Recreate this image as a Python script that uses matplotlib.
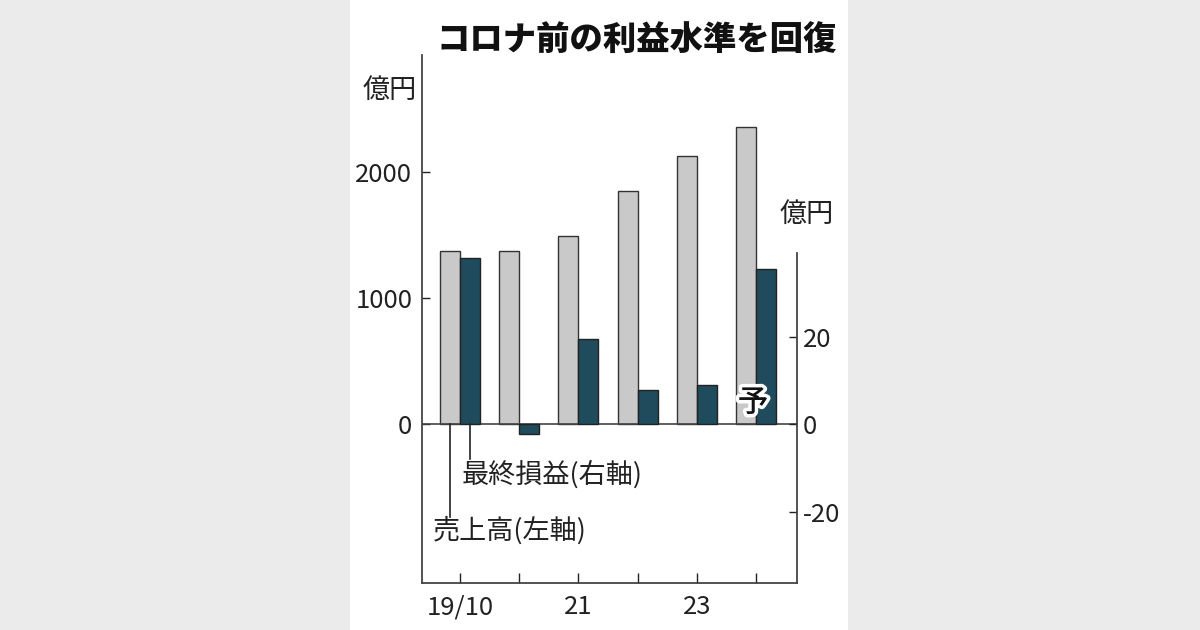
import matplotlib.pyplot as plt
from matplotlib.patches import Rectangle
import matplotlib.patheffects as pe

plt.rcParams['font.family'] = ['Noto Sans CJK JP', 'DejaVu Sans']

# data
years = ["19/10", "20", "21", "22", "23", "24"]
tick_labels = ["19/10", "", "21", "", "23", ""]
sales = [1375, 1371, 1492, 1846, 2128, 2357]      # 売上高, 億円 (left axis)
profit = [38.0, -2.3, 19.4, 7.8, 9.0, 35.4]       # 最終損益, 億円 (right axis)

W, H = 1200, 630
fig = plt.figure(figsize=(W / 100, H / 100), dpi=100)
fig.patch.set_facecolor("#ebebeb")
# white card in the middle
fig.add_artist(Rectangle((350 / W, 0), 498 / W, 1, transform=fig.transFigure,
                         facecolor="white", edgecolor="none", zorder=0))

num_font = ['Liberation Sans Narrow', 'Noto Sans CJK JP', 'DejaVu Sans']
ink = "#222222"

ax = fig.add_axes([422 / W, (H - 583) / H, 375 / W, 528 / H])
ax.set_facecolor("none")
x = list(range(len(years)))
bw = 0.338

ax.bar([i - bw / 2 for i in x], sales, width=bw, color="#c9c9c9",
       edgecolor="#333333", linewidth=1, zorder=3)
ax.axhline(0, color="#444444", linewidth=1.2, zorder=4)
ax.set_xlim(-0.642, 5.693)
ax.set_ylim(-1262, 2929)
ax.set_yticks([0, 1000, 2000])
ax.set_xticks(x)
ax.set_xticklabels(tick_labels)

ax2 = ax.twinx()
ax2.bar([i + bw / 2 for i in x], profit, width=bw, color="#1f4b5c",
        edgecolor="#222222", linewidth=1, zorder=3)
ax2.set_ylim(-36.34, 84.34)
ax2.set_yticks([-20, 0, 20])
ax2.set_yticklabels(["-20", "0", "20"])

for a in (ax, ax2):
    a.spines["top"].set_visible(False)
    for s in a.spines.values():
        s.set_color("#444444")
        s.set_linewidth(1.3)
ax.spines["right"].set_visible(False)
ax2.spines["left"].set_visible(False)
ax2.spines["bottom"].set_visible(False)
ax2.spines["right"].set_bounds(-36.34, 39.1)

ax.tick_params(axis="y", direction="in", length=6, width=1, pad=7,
               labelsize=18.5, colors=ink)
ax.tick_params(axis="x", direction="in", length=7, width=1, pad=8,
               labelsize=18.5, colors=ink)
ax2.tick_params(axis="y", direction="in", length=6, width=1, pad=4,
                labelsize=18.5, colors=ink)
for lab in ax.get_xticklabels() + ax.get_yticklabels() + ax2.get_yticklabels():
    lab.set_family(num_font)

def px(xp, yp):
    return xp / W, 1 - yp / H

fig.text(*px(637, 40), "コロナ前の利益水準を回復", fontsize=24, fontweight="black",
         ha="center", va="center", color="#111111")
fig.text(*px(390, 90), "億円", fontsize=19.5, ha="center", va="center", color=ink)
fig.text(*px(807, 214), "億円", fontsize=19.5, ha="center", va="center", color=ink)

# leader lines to labels
fig.add_artist(plt.Line2D([450 / W, 450 / W], [1 - 424 / H, 1 - 517 / H],
                          color="#222222", linewidth=1.2))
fig.add_artist(plt.Line2D([470 / W, 470 / W], [1 - 424 / H, 1 - 459 / H],
                          color="#222222", linewidth=1.2))
fig.text(*px(462, 475), "最終損益(右軸)", fontsize=19.5, ha="left", va="center", color=ink)
fig.text(*px(433, 531), "売上高(左軸)", fontsize=19.5, ha="left", va="center", color=ink)

fig.text(*px(753, 403), "予", fontsize=22, fontweight="medium", ha="center",
         va="center", color="#111111",
         path_effects=[pe.withStroke(linewidth=5, foreground="white")])

fig.savefig("out.png", dpi=100, facecolor=fig.get_facecolor())
